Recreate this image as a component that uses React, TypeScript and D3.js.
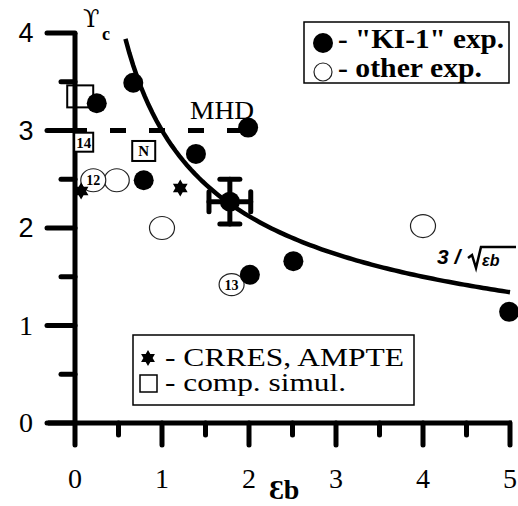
import React from "react";
import * as d3 from "d3";

// ---- data ----
const ki1X = [0.67, 0.25, 1.99, 1.39, 0.79, 1.78, 2.01, 2.51, 4.99];
const ki1Y = [3.49, 3.28, 3.03, 2.76, 2.49, 2.27, 1.52, 1.66, 1.14];
const otherX = [0.48, 1.0, 4.0, 0.21, 1.8];
const otherY = [2.49, 2.0, 2.02, 2.49, 1.42];
const otherLabels = ["", "", "", "12", "13"];
const crresX = [1.21, 0.07];
const crresY = [2.41, 2.38];
const simX = [0.06, 0.1, 0.79];
const simY = [3.35, 2.88, 2.79];
const simLabels = ["", "14", "N"];
const errX = 1.78, errY = 2.27, errDx = 0.24, errDy = 0.23;
const mhdLevel = 3;
const curveStart = 0.58, curveEnd = 5;
const xTicks = [0, 1, 2, 3, 4, 5];
const yTicks = [0, 1, 2, 3, 4];
const xMinor = [0.5, 1.5, 2.5, 3.5, 4.5];
const yMinor = [0.5, 1.5, 2.5, 3.5];

const W = 518, H = 506;
const x = d3.scaleLinear().domain([0, 5]).range([75, 510]);
const y = d3.scaleLinear().domain([0, 4]).range([423, 33]);

const serif = "'Liberation Serif', 'Times New Roman', serif";
const sans = "'Liberation Sans', Arial, sans-serif";

function hexagram(cx: number, cy: number, r: number) {
  const p = d3.path();
  for (let t = 0; t < 2; t++) {
    for (let i = 0; i < 3; i++) {
      const a = (Math.PI * 2 * i) / 3 + (t ? Math.PI : 0) - Math.PI / 2;
      const px = cx + r * Math.cos(a), py = cy + r * Math.sin(a);
      if (i === 0) p.moveTo(px, py); else p.lineTo(px, py);
    }
    p.closePath();
  }
  return p.toString();
}

export default function App() {
  const curvePts = d3.range(0, 101).map((i) => {
    const xv = curveStart + ((curveEnd - curveStart) * i) / 100;
    return [xv, 3 / Math.sqrt(xv)] as [number, number];
  });
  const line = d3.line<[number, number]>().x((d) => x(d[0])).y((d) => y(d[1]));
  const sw = 5;
  return (
    <svg width={W} height={H} style={{ position: "absolute", left: 0, top: 0, background: "#fff" }}>
      {/* axes */}
      <line x1={x(0)} x2={x(0)} y1={y(4)} y2={y(0)} stroke="#000" strokeWidth={sw} />
      <line x1={48} x2={x(5) + 2} y1={y(0)} y2={y(0)} stroke="#000" strokeWidth={sw} />
      {yTicks.map((t) => (
        <line key={"yt" + t} x1={47} x2={x(0)} y1={y(t)} y2={y(t)} stroke="#000" strokeWidth={sw} strokeLinecap="round" />
      ))}
      {yMinor.map((t) => (
        <line key={"ym" + t} x1={61} x2={x(0)} y1={y(t)} y2={y(t)} stroke="#000" strokeWidth={sw} strokeLinecap="round" />
      ))}
      {xTicks.map((t) => (
        <line key={"xt" + t} x1={x(t)} x2={x(t)} y1={y(0)} y2={y(0) + 22} stroke="#000" strokeWidth={sw} strokeLinecap="round" />
      ))}
      {xMinor.map((t) => (
        <line key={"xm" + t} x1={x(t)} x2={x(t)} y1={y(0)} y2={y(0) + 12} stroke="#000" strokeWidth={sw} strokeLinecap="round" />
      ))}
      {yTicks.map((t) => (
        <text key={"yl" + t} x={26} y={y(t) + 9} textAnchor="middle"
          fontFamily={t >= 2 ? sans : serif} fontSize={t >= 2 ? 27 : 28}>{t}</text>
      ))}
      {xTicks.map((t) => (
        <text key={"xl" + t} x={x(t)} y={488} textAnchor="middle" fontFamily={serif} fontSize={28}>{t}</text>
      ))}
      {/* axis labels */}
      <text x={83} y={27} fontFamily="'DejaVu Serif', serif" fontSize={24}>ϒ</text>
      <text x={102} y={40} fontFamily={serif} fontSize={18} fontWeight="bold">c</text>
      <text x={269} y={499} fontFamily={serif} fontSize={28} fontWeight="bold">Ɛb</text>

      {/* MHD dashed line */}
      <line x1={x(0)} x2={x(2)} y1={y(mhdLevel)} y2={y(mhdLevel)} stroke="#000" strokeWidth={5}
        strokeDasharray="16,23" strokeDashoffset={4} />
      <text x={190} y={119} fontFamily={serif} fontSize={26} textLength={64} lengthAdjust="spacingAndGlyphs">MHD</text>

      {/* curve */}
      <path d={line(curvePts) || ""} fill="none" stroke="#000" strokeWidth={4.5} />
      <g fontFamily={sans} fontStyle="italic" fontWeight="bold">
        <text x={437} y={264} fontSize={21}>3 /</text>
        <path d="M468,258 L472,255 L476,268 L481,247 L516,247" fill="none" stroke="#000" strokeWidth={2.5} />
        <text x={482} y={266} fontSize={16}>εb</text>
      </g>

      {/* open circles */}
      {otherX.map((v, i) => (
        <g key={"o" + i}>
          <ellipse cx={x(v)} cy={y(otherY[i])} rx={12.5}
            ry={otherLabels[i] === "13" ? 11 : 11.5} fill="#fff" stroke="#222" strokeWidth={1.2} />
          {otherLabels[i] && (
            <text x={x(v)} y={y(otherY[i]) + 5} textAnchor="middle" fontFamily={serif}
              fontWeight="bold" fontSize={14}>{otherLabels[i]}</text>
          )}
        </g>
      ))}
      {/* squares */}
      {simX.map((v, i) => {
        const s = i === 0 ? [26, 22] : i === 1 ? [19, 19] : [23, 20];
        return (
          <g key={"s" + i}>
            <rect x={x(v) - s[0] / 2} y={y(simY[i]) - s[1] / 2} width={s[0]} height={s[1]}
              fill={i === 0 ? "none" : "#fff"} stroke="#000" strokeWidth={2} />
            {simLabels[i] && (
              <text x={x(v)} y={y(simY[i]) + 5.5} textAnchor="middle" fontFamily={serif}
                fontWeight="bold" fontSize={15}>{simLabels[i]}</text>
            )}
          </g>
        );
      })}
      {/* stars */}
      {crresX.map((v, i) => (
        <path key={"st" + i} d={hexagram(x(v), y(crresY[i]), 8.5)} fill="#000" />
      ))}
      {/* error bar */}
      <g stroke="#000" strokeWidth={5} strokeLinecap="round">
        <line x1={x(errX)} x2={x(errX)} y1={y(errY + errDy)} y2={y(errY - errDy)} />
        <line x1={x(errX - errDx)} x2={x(errX + errDx)} y1={y(errY)} y2={y(errY)} />
        <line x1={x(errX) - 10} x2={x(errX) + 10} y1={y(errY + errDy)} y2={y(errY + errDy)} />
        <line x1={x(errX) - 10} x2={x(errX) + 10} y1={y(errY - errDy)} y2={y(errY - errDy)} />
        <line x1={x(errX - errDx)} x2={x(errX - errDx)} y1={y(errY) - 10} y2={y(errY) + 10} />
        <line x1={x(errX + errDx)} x2={x(errX + errDx)} y1={y(errY) - 10} y2={y(errY) + 10} />
      </g>
      {/* filled circles */}
      {ki1X.map((v, i) => (
        <circle key={"f" + i} cx={x(v)} cy={y(ki1Y[i])} r={10} fill="#000" />
      ))}

      {/* legend 1 */}
      <rect x={304} y={22} width={205} height={61} fill="#fff" stroke="#000" strokeWidth={1.5} />
      <circle cx={323} cy={43} r={10} fill="#000" />
      <circle cx={323} cy={72} r={9} fill="#fff" stroke="#222" strokeWidth={1.2} />
      <text x={338} y={48} fontFamily={serif} fontWeight="bold" fontSize={27} textLength={166} lengthAdjust="spacingAndGlyphs">- "KI-1" exp.</text>
      <text x={338} y={77} fontFamily={serif} fontWeight="bold" fontSize={27} textLength={144} lengthAdjust="spacingAndGlyphs">- other exp.</text>

      {/* legend 2 */}
      <rect x={133} y={335} width={281} height={70} fill="#fff" stroke="#000" strokeWidth={1.5} />
      <path d={hexagram(148, 358, 8)} fill="#000" />
      <rect x={140} y={375} width={17} height={17} fill="none" stroke="#000" strokeWidth={1.5} />
      <text x={165} y={366} fontFamily={serif} fontSize={25} textLength={239} lengthAdjust="spacingAndGlyphs">- CRRES, AMPTE</text>
      <text x={165} y={391} fontFamily={serif} fontSize={25} textLength={181} lengthAdjust="spacingAndGlyphs">- comp. simul.</text>
    </svg>
  );
}
